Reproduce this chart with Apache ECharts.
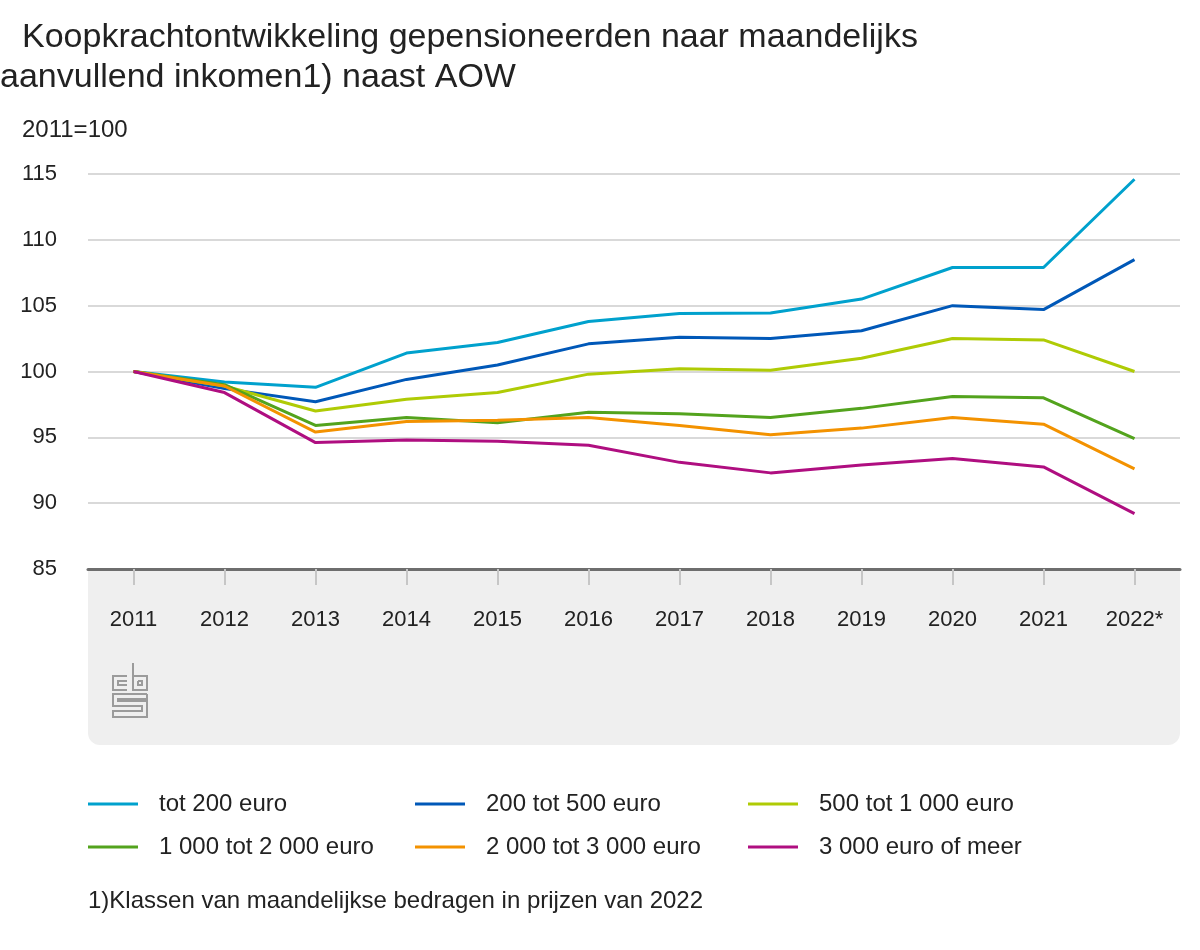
<!DOCTYPE html>
<html>
<head>
<meta charset="utf-8">
<script src="https://cdn.jsdelivr.net/npm/echarts@6/dist/echarts.min.js"></script>
<style>
html,body{margin:0;padding:0;background:#fff;}
#chart{width:1200px;height:950px;}
</style>
</head>
<body>
<div id="chart"></div>
<script>
const titleLine1 = 'Koopkrachtontwikkeling gepensioneerden naar maandelijks';
const titleLine2 = 'aanvullend inkomen1) naast AOW';
const unitLabel = '2011=100';
const footnote = '1)Klassen van maandelijkse bedragen in prijzen van 2022';

const years = ['2011','2012','2013','2014','2015','2016','2017','2018','2019','2020','2021','2022*'];

const seriesNames = ['tot 200 euro','200 tot 500 euro','500 tot 1 000 euro','1 000 tot 2 000 euro','2 000 tot 3 000 euro','3 000 euro of meer'];

const tot200      = [100, 99.2, 98.8, 101.4, 102.2, 103.8, 104.4, 104.45, 105.5, 107.9, 107.9, 114.6];
const van200tot500 = [100, 98.7, 97.7, 99.4, 100.5, 102.1, 102.6, 102.5, 103.1, 105.0, 104.7, 108.5];
const van500tot1000 = [100, 98.9, 97.0, 97.9, 98.4, 99.8, 100.2, 100.1, 101.0, 102.5, 102.4, 100.0];
const van1000tot2000 = [100, 99.0, 95.9, 96.5, 96.1, 96.9, 96.8, 96.5, 97.2, 98.1, 98.0, 94.9];
const van2000tot3000 = [100, 98.9, 95.4, 96.2, 96.3, 96.5, 95.9, 95.2, 95.7, 96.5, 96.0, 92.6];
const van3000ofMeer = [100, 98.4, 94.6, 94.8, 94.7, 94.4, 93.1, 92.3, 92.9, 93.4, 92.75, 89.2];

const yTicks = { min: 85, max: 115, interval: 5 };

const colors = ['#00a1cd','#0058b8','#afcb05','#53a31d','#f39200','#af0e80'];
const allData = [tot200, van200tot500, van500tot1000, van1000tot2000, van2000tot3000, van3000ofMeer];

const FONT = '"Liberation Sans", Arial, Helvetica, sans-serif';
const chart = echarts.init(document.getElementById('chart'), null, {renderer:'canvas'});

const legendCommon = {
  orient: 'vertical',
  top: 792,
  padding: 0,
  itemWidth: 50,
  itemHeight: 3,
  itemGap: 19,
  icon: 'rect',
  selectedMode: false,
  textStyle: { fontFamily: FONT, fontSize: 24, color: '#222', padding: [0,0,0,16], lineHeight: 24 }
};

const logoStroke = { stroke: '#9b9b9b', lineWidth: 2, fill: null };
function pl(points){ return { type:'polyline', shape:{points}, style: logoStroke, silent:true }; }

chart.setOption({
  animation: false,
  textStyle: { fontFamily: FONT },
  title: [
    { text: titleLine1, left: 22, top: 21, padding: 0, textStyle: { fontFamily: FONT, fontSize: 34, fontWeight: 'normal', color: '#222' } },
    { text: titleLine2, left: 0, top: 61, padding: 0, textStyle: { fontFamily: FONT, fontSize: 34, fontWeight: 'normal', color: '#222' } }
  ],
  grid: { left: 88, right: 20, top: 174, bottom: 381, containLabel: false },
  xAxis: {
    type: 'category',
    data: years,
    boundaryGap: true,
    axisLine: { show: true, lineStyle: { color: '#6e6e6e', width: 3 } },
    axisTick: { show: true, alignWithLabel: true, length: 16, lineStyle: { color: '#c6c6c6', width: 2 } },
    axisLabel: { margin: 40, fontSize: 22, color: '#222', fontFamily: FONT },
    splitLine: { show: false }
  },
  yAxis: {
    type: 'value',
    min: yTicks.min, max: yTicks.max, interval: yTicks.interval,
    axisLine: { show: false },
    axisTick: { show: false },
    axisLabel: { margin: 31, fontSize: 22, color: '#222', fontFamily: FONT },
    splitLine: { show: true, lineStyle: { color: '#cccccc', width: 1.5 } }
  },
  legend: [
    Object.assign({}, legendCommon, { left: 88, data: [seriesNames[0], seriesNames[3]] }),
    Object.assign({}, legendCommon, { left: 415, data: [seriesNames[1], seriesNames[4]] }),
    Object.assign({}, legendCommon, { left: 748, data: [seriesNames[2], seriesNames[5]] })
  ],
  graphic: [
    { type: 'rect', z: -10, silent: true, shape: { x: 88, y: 570, width: 1092, height: 175, r: [0,0,12,12] }, style: { fill: '#efefef' } },
    { type: 'text', left: 22, top: 118, silent: true, style: { text: unitLabel, fontFamily: FONT, fontSize: 24, fill: '#222' } },
    { type: 'text', left: 88, top: 889, silent: true, style: { text: footnote, fontFamily: FONT, fontSize: 24, fill: '#222' } },
    { type: 'group', x: 112, y: 663, silent: true, children: [
      pl([[15,13],[1,13],[1,27],[15,27]]),
      pl([[15,18],[6,18],[6,22],[15,22]]),
      pl([[21,0],[21,27],[35,27],[35,13],[21,13]]),
      pl([[26,18],[30,18],[30,22],[26,22],[26,18]]),
      pl([[35,31],[1,31],[1,43],[30,43],[30,48],[1,48],[1,54],[35,54],[35,38],[6,38],[6,36],[35,36],[35,31]])
    ]}
  ],
  series: seriesNames.map((name, i) => ({
    name,
    type: 'line',
    data: allData[i],
    symbol: 'none',
    smooth: false,
    color: colors[i],
    lineStyle: { color: colors[i], width: 3 },
    z: 2 + i
  }))
});
</script>
</body>
</html>
